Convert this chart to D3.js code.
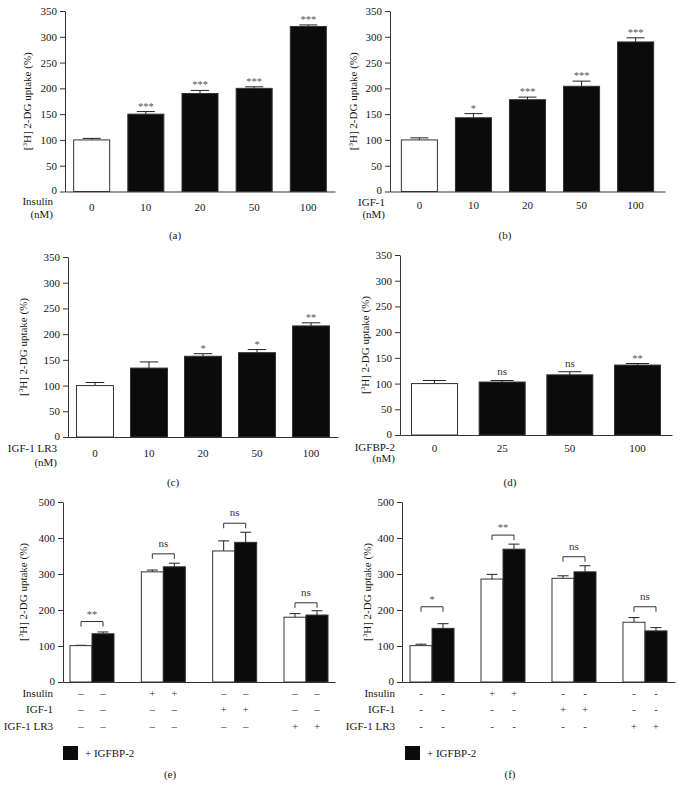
<!DOCTYPE html>
<html><head><meta charset="utf-8">
<script src="https://cdnjs.cloudflare.com/ajax/libs/d3/7.8.5/d3.min.js"></script>
<style>body{margin:0;background:#fff}svg{display:block;font-family:"Liberation Serif","DejaVu Serif",serif}</style>
</head><body>
<script>
// ---------- data ----------
const catsA = ["0","10","20","50","100"];
const valsA = [100,150,190,200,320];
const errA  = [3,5,6,3,3];
const sigA  = ["","***","***","***","***"];

const catsB = ["0","10","20","50","100"];
const valsB = [100,143,178,204,290];
const errB  = [4,8,5,10,8];
const sigB  = ["","*","***","***","***"];

const catsC = ["0","10","20","50","100"];
const valsC = [100,134,157,164,216];
const errC  = [6,12,5,6,6];
const sigC  = ["","","*","*","**"];

const catsD = ["0","25","50","100"];
const valsD = [100,103,117,136];
const errD  = [6,3,6,3];
const sigD  = ["","ns","ns","**"];

const groupsEF = ["ctrl","insulin","igf1","lr3"];
const eWhite = [101,306,364,180];
const eWhiteErr = [1,5,28,10];
const eBlack = [134,320,388,186];
const eBlackErr = [5,10,28,12];
const eBracket = [168,356,441,220];
const eSig = ["**","ns","ns","ns"];

const fWhite = [101,286,288,166];
const fWhiteErr = [4,13,7,13];
const fBlack = [149,369,306,142];
const fBlackErr = [13,14,17,9];
const fBracket = [209,408,348,209];
const fSig = ["*","**","ns","ns"];

const rowNames = ["Insulin","IGF-1","IGF-1 LR3"];
const rowSigns = [
  ["-","-","+","+","-","-","-","-"],
  ["-","-","-","-","+","+","-","-"],
  ["-","-","-","-","-","-","+","+"]
];
const legendLabel = "+ IGFBP-2";

// ---------- drawing ----------
const svg = d3.select("body").append("svg").attr("width",683).attr("height",796);
const FS = 11, AX = "#333", TX = "#151515";

function styleAxis(g){
  g.selectAll("path,line").attr("stroke",AX).attr("stroke-width",1);
  g.selectAll("text").attr("font-size",FS).attr("fill",TX).attr("font-family","Liberation Serif");
}
function liftZero(g){
  g.selectAll(".tick").filter(d=>d===0).select("text").attr("y",-1.5);
}
function yTitle(x, yc){
  const t = svg.append("text").attr("transform",`translate(${x},${yc}) rotate(-90)`)
    .attr("text-anchor","middle").attr("dy","0.35em").attr("font-size",FS).attr("fill",TX);
  t.append("tspan").text("[");
  t.append("tspan").text("3").attr("font-size",7).attr("dy",-4);
  t.append("tspan").text("H] 2-DG uptake (%)").attr("dy",4);
}
function sigText(x, anchorY, s){
  if(!s) return;
  const star = s.indexOf("*")>=0;
  svg.append("text").attr("x",x).attr("y",anchorY-(star?2:5)).attr("text-anchor","middle")
    .attr("font-size",star?10.5:FS).attr("fill",star?"#555":"#333").text(s);
}
function errBar(x, y, top, w, val, err){
  const cx = x, yt = y(val+err), yv = y(val);
  svg.append("line").attr("x1",cx).attr("x2",cx).attr("y1",yv).attr("y2",yt).attr("stroke","#222");
  svg.append("line").attr("x1",cx-w/2).attr("x2",cx+w/2).attr("y1",yt).attr("y2",yt).attr("stroke","#222");
  return yt;
}

function simplePanel(c, cats, vals, errs, sigs){
  const x = d3.scaleBand().domain(cats).range([c.x0,c.x1]).paddingInner(c.pi).paddingOuter(c.po);
  const y = d3.scaleLinear().domain([0,c.max]).range([c.yb,c.yt]);
  cats.forEach((k,i)=>{
    const bx = x(k), bw = x.bandwidth();
    const top = errBar(bx+bw/2, y, 0, bw/2, vals[i], errs[i]);
    svg.append("rect").attr("x",bx).attr("y",y(vals[i])).attr("width",bw).attr("height",y(0)-y(vals[i]))
      .attr("fill",i===0?"#fff":"#0b0b0b").attr("stroke","#333").attr("stroke-width",1);
    sigText(bx+bw/2, top, sigs[i]);
  });
  svg.append("g").attr("transform",`translate(${c.x0},0)`)
    .call(d3.axisLeft(y).tickValues(d3.range(0,c.max+1,c.step)).tickSize(5).tickSizeOuter(0).tickPadding(3)).call(styleAxis).call(liftZero);
  svg.append("g").attr("transform",`translate(0,${c.yb})`)
    .call(d3.axisBottom(x).tickSize(0).tickSizeOuter(0).tickPadding(c.tp)).call(styleAxis);
  c.rows.forEach((r,i)=>{
    svg.append("text").attr("x",c.rx).attr("y",r[1]+4).attr("text-anchor","end").attr("font-size",FS).attr("fill",TX).text(r[0]);
  });
  yTitle(c.tx,(c.yb+c.yt)/2);
  svg.append("text").attr("x",c.cap[1]).attr("y",c.cap[2]+4).attr("text-anchor","middle").attr("font-size",FS).attr("fill",TX).text(c.cap[0]);
}

function groupPanel(c, white, wErr, black, bErr, brk, sig, dash){
  const x = d3.scaleBand().domain(groupsEF).range([c.x0,c.x1]).paddingInner(c.pi).paddingOuter(c.po);
  const sub = d3.scaleBand().domain(["w","b"]).range([0,x.bandwidth()]);
  const y = d3.scaleLinear().domain([0,500]).range([c.yb,c.yt]);
  const centers = [];
  groupsEF.forEach((g,i)=>{
    [["w",white[i],wErr[i],"#fff"],["b",black[i],bErr[i],"#0b0b0b"]].forEach(([k,v,e,fill])=>{
      const bx = x(g)+sub(k), bw = sub.bandwidth();
      errBar(bx+bw/2, y, 0, bw/2, v, e);
      svg.append("rect").attr("x",bx).attr("y",y(v)).attr("width",bw).attr("height",y(0)-y(v))
        .attr("fill",fill).attr("stroke","#333").attr("stroke-width",1);
      centers.push(bx+bw/2);
    });
    const xa = x(g)+sub("w")+sub.bandwidth()/2, xb = x(g)+sub("b")+sub.bandwidth()/2, yy = y(brk[i]);
    svg.append("path").attr("d",`M${xa},${yy+5}V${yy}H${xb}V${yy+5}`).attr("fill","none").attr("stroke","#333");
    sigText((xa+xb)/2, yy-2, sig[i]);
  });
  svg.append("g").attr("transform",`translate(${c.x0},0)`)
    .call(d3.axisLeft(y).tickValues(d3.range(0,501,100)).tickSize(5).tickSizeOuter(0).tickPadding(3)).call(styleAxis).call(liftZero);
  svg.append("g").attr("transform",`translate(0,${c.yb})`)
    .call(d3.axisBottom(x).tickSize(0).tickSizeOuter(0).tickFormat("")).call(styleAxis);
  rowNames.forEach((n,r)=>{
    const ry = c.rowY[r];
    svg.append("text").attr("x",c.rx).attr("y",ry+4).attr("text-anchor","end").attr("font-size",FS).attr("fill",TX).text(n);
    rowSigns[r].forEach((s,j)=>{
      svg.append("text").attr("x",centers[j]).attr("y",ry+4).attr("text-anchor","middle").attr("font-size",FS).attr("fill","#333")
        .text(s==="-"?dash:s);
    });
  });
  svg.append("rect").attr("x",c.lx).attr("y",746).attr("width",15).attr("height",14).attr("fill","#0b0b0b");
  svg.append("text").attr("x",c.lx+22).attr("y",757).attr("font-size",FS).attr("fill",TX).text(legendLabel);
  yTitle(c.tx,(c.yb+c.yt)/2);
  svg.append("text").attr("x",c.cap[1]).attr("y",c.cap[2]+4).attr("text-anchor","middle").attr("font-size",FS).attr("fill",TX).text(c.cap[0]);
}

simplePanel({x0:65,x1:335,pi:0.335,po:0.16,yb:191.5,yt:11,max:350,step:50,tp:11.5,rx:53,
  rows:[["Insulin",201],["(nM)",214]],tx:27,cap:["(a)",175,235]}, catsA, valsA, errA, sigA);
simplePanel({x0:390,x1:665,pi:0.333,po:0.21,yb:191.5,yt:11,max:350,step:50,tp:9.5,rx:385,
  rows:[["IGF-1",202],["(nM)",214]],tx:353,cap:["(b)",505,235]}, catsB, valsB, errB, sigB);
simplePanel({x0:68,x1:338,pi:0.315,po:0.157,yb:437,yt:257,max:350,step:50,tp:12,rx:57,
  rows:[["IGF-1 LR3",448],["(nM)",462]],tx:23,cap:["(c)",173,482]}, catsC, valsC, errC, sigC);
simplePanel({x0:400,x1:672,pi:0.32,po:0.17,yb:435,yt:255,max:350,step:50,tp:9,rx:395,
  rows:[["IGFBP-2",447],["(nM)",458]],tx:365,cap:["(d)",510,482]}, catsD, valsD, errD, sigD);
groupPanel({x0:63,x1:335,pi:0.383,po:0.098,yb:682,yt:502,rx:53,rowY:[693,709,725.5],lx:63,tx:23,cap:["(e)",170,774]},
  eWhite,eWhiteErr,eBlack,eBlackErr,eBracket,eSig,"\u2013");
groupPanel({x0:402,x1:675,pi:0.38,po:0.113,yb:682,yt:502,rx:395,rowY:[693,709,725.5],lx:405,tx:367,cap:["(f)",510,774]},
  fWhite,fWhiteErr,fBlack,fBlackErr,fBracket,fSig,"-");
</script>
</body></html>
